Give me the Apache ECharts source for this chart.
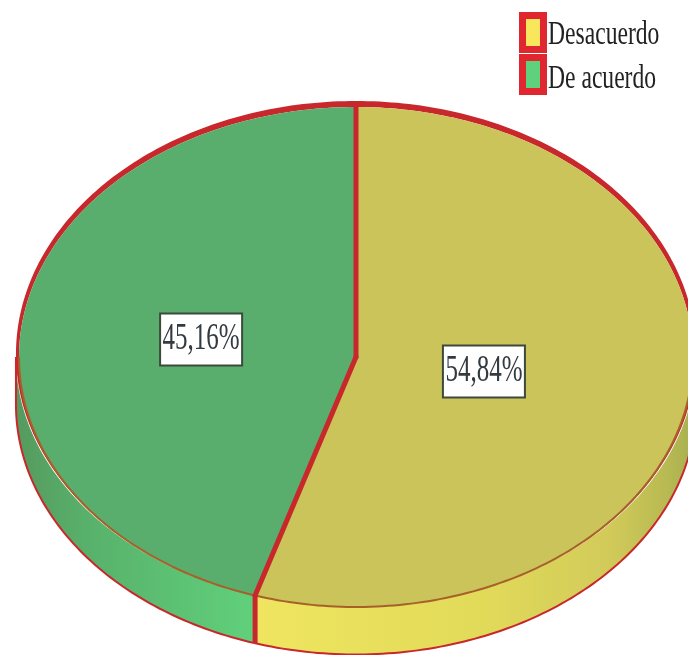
<!DOCTYPE html>
<html>
<head>
<meta charset="utf-8">
<style>html,body{margin:0;padding:0;background:#fff}#chart{width:688px;height:655px}</style>
<script src="https://cdn.jsdelivr.net/npm/echarts@6/dist/echarts.min.js"></script>
</head>
<body>
<div id="chart"></div>
<script>
// Survey answers, in percent
const categories = ['Desacuerdo', 'De acuerdo'];
const percentages = [54.84, 45.16];

const faceColors = ['#cac45a', '#59ae6d'];
const swatchColors = ['#f8e75c', '#5fd07c'];
const wallStops = [
  [[0, '#efe560'], [0.5, '#e2db59'], [0.8, '#d2cb5a'], [0.93, '#b9ba52'], [1, '#a5b050']],
  [[0, '#569a5e'], [0.3, '#58b16b'], [1, '#60d07b']]
];
const labelRadius = [0.384, 0.465];

const RED = '#c8282c';
const DEPTH = 0.19;   // height of the disc, in axis units
const RIM_X = 0.009;  // rim thickness beside the disc
const RIM_Y = 0.012;  // half the rim thickness above the disc

const total = percentages.reduce((a, b) => a + b, 0);
function sliceRange(i) {
  let start = 0;
  for (let k = 0; k < i; k++) start += percentages[k] / total * 360;
  return [start, start + percentages[i] / total * 360];
}
function onEllipse(deg, sx, sy, dy) {
  const t = deg * Math.PI / 180;
  return [Math.sin(t) * sx, Math.cos(t) * sy + dy];
}
function arc(from, to, sx, sy, dy) {
  const pts = [];
  const n = Math.max(2, Math.ceil(Math.abs(to - from)));
  for (let k = 0; k <= n; k++) pts.push(onEllipse(from + (to - from) * k / n, sx, sy, dy));
  return pts;
}

function renderSlice(params, api) {
  const i = params.seriesIndex;
  const [a, b] = sliceRange(i);
  const px = pts => pts.map(p => api.coord(p));
  const children = [];

  // Side wall: only the part on the near half of the disc
  const w0 = Math.max(a, 90), w1 = Math.min(b, 270);
  if (w1 > w0) {
    const wx = 1 + RIM_X;
    const top = arc(w0, w1, wx, 1, 0);
    const bottom = arc(w1, w0, wx, 1, -DEPTH);
    children.push({
      type: 'polygon',
      shape: { points: px(top.concat(bottom)) },
      style: {
        fill: {
          type: 'linear', x: 0, y: 0, x2: 1, y2: 0,
          colorStops: wallStops[i].map(s => ({ offset: s[0], color: s[1] }))
        },
        stroke: null
      }
    });
    // Outline along the bottom and up the disc's silhouette
    const lower = arc(w0, w1, wx, 1, -DEPTH);
    if (w0 === 90) lower.unshift(onEllipse(90, wx, 1, 0));
    if (w1 === 270) lower.push(onEllipse(270, wx, 1, 0));
    children.push({
      type: 'polyline',
      shape: { points: px(lower) },
      style: { stroke: RED, lineWidth: 2, fill: null }
    });
  }

  // Red rim, thick at the far edge and vanishing towards the near edge
  const outer = arc(a, b, 1 + RIM_X, 1 + RIM_Y, RIM_Y);
  const inner = arc(b, a, 1, 1, 0);
  children.push({
    type: 'polygon',
    shape: { points: px(outer.concat(inner)) },
    style: { fill: RED, stroke: null }
  });

  // Top face
  children.push({
    type: 'polygon',
    shape: { points: px([[0, 0]].concat(arc(a, b, 1, 1, 0))) },
    style: { fill: faceColors[i], stroke: null }
  });

  // Thin brown edge where the face meets the wall
  if (w1 > w0) {
    children.push({
      type: 'polyline',
      shape: { points: px(arc(w0, w1, 1, 1, 0)) },
      style: { stroke: '#a8602a', lineWidth: 2, fill: null }
    });
  }
  return { type: 'group', children };
}

// Slice borders across the face and down the wall
function renderBorders(params, api) {
  const children = [];
  percentages.forEach((_, i) => {
    const deg = sliceRange(i)[0];
    const p0 = api.coord([0, 0]), p1 = api.coord(onEllipse(deg, 1, 1, 0));
    children.push({
      type: 'line',
      shape: { x1: p0[0], y1: p0[1], x2: p1[0], y2: p1[1] },
      style: { stroke: RED, lineWidth: 5, lineCap: 'round' }
    });
    if (deg > 90 && deg < 270) {
      const p2 = api.coord(onEllipse(deg, 1, 1, -DEPTH));
      children.push({
        type: 'line',
        shape: { x1: p1[0], y1: p1[1], x2: p2[0], y2: p2[1] },
        style: { stroke: RED, lineWidth: 5 }
      });
    }
  });
  return { type: 'group', children };
}

// White value boxes on each slice's middle angle
function renderLabels(params, api) {
  const children = [];
  percentages.forEach((v, i) => {
    const [a, b] = sliceRange(i);
    const c = api.coord(onEllipse((a + b) / 2, labelRadius[i], labelRadius[i], 0));
    children.push({
      type: 'rect',
      shape: { x: c[0] - 41, y: c[1] - 26, width: 82, height: 52 },
      style: { fill: '#ffffff', stroke: '#3c4a3c', lineWidth: 2 }
    });
    children.push({
      type: 'text',
      x: c[0], y: c[1], scaleX: 1, scaleY: 1.5,
      style: {
        text: v.toFixed(2).replace('.', ',') + '%',
        x: 0, y: 0, align: 'center', verticalAlign: 'middle',
        fill: '#333a40', font: '25px "Liberation Serif"'
      }
    });
  });
  return { type: 'group', children };
}

// Legend captions, set tall and narrow beside the legend swatches
const captionY = [35, 79];
function renderCaptions() {
  return {
    type: 'group',
    children: categories.map((name, i) => ({
      type: 'text',
      x: 548, y: captionY[i], scaleX: 1, scaleY: 1.45,
      style: {
        text: name, x: 0, y: 0, align: 'left', verticalAlign: 'middle',
        fill: '#222222', font: '23.6px "Liberation Serif"'
      }
    }))
  };
}

const chart = echarts.init(document.getElementById('chart'), null, { renderer: 'canvas' });
chart.setOption({
  animation: false,
  backgroundColor: '#ffffff',
  grid: { left: 19, top: 107, width: 674, height: 500, outerBoundsMode: 'none' },
  xAxis: { type: 'value', min: -1, max: 1, show: false },
  yAxis: { type: 'value', min: -1, max: 1, show: false },
  legend: {
    left: 519, top: 12, orient: 'vertical', padding: 0,
    itemWidth: 21, itemHeight: 34, itemGap: 1, icon: 'rect', selectedMode: false,
    data: categories,
    formatter: () => '',
    itemStyle: { borderColor: '#e0262e', borderWidth: 7 }
  },
  series: categories.map((name, i) => ({
    name, type: 'custom', coordinateSystem: 'cartesian2d', clip: false, silent: true,
    itemStyle: { color: swatchColors[i] },
    encode: { x: 0, y: 1 },
    data: [[0, 0]],
    renderItem: renderSlice
  })).concat([
    { type: 'custom', coordinateSystem: 'cartesian2d', clip: false, silent: true, z: 3, data: [[0, 0]], encode: { x: 0, y: 1 }, renderItem: renderBorders },
    { type: 'custom', coordinateSystem: 'cartesian2d', clip: false, silent: true, z: 4, data: [[0, 0]], encode: { x: 0, y: 1 }, renderItem: renderLabels },
    { type: 'custom', coordinateSystem: 'cartesian2d', clip: false, silent: true, z: 4, data: [[0, 0]], encode: { x: 0, y: 1 }, renderItem: renderCaptions }
  ])
});
</script>
</body>
</html>
